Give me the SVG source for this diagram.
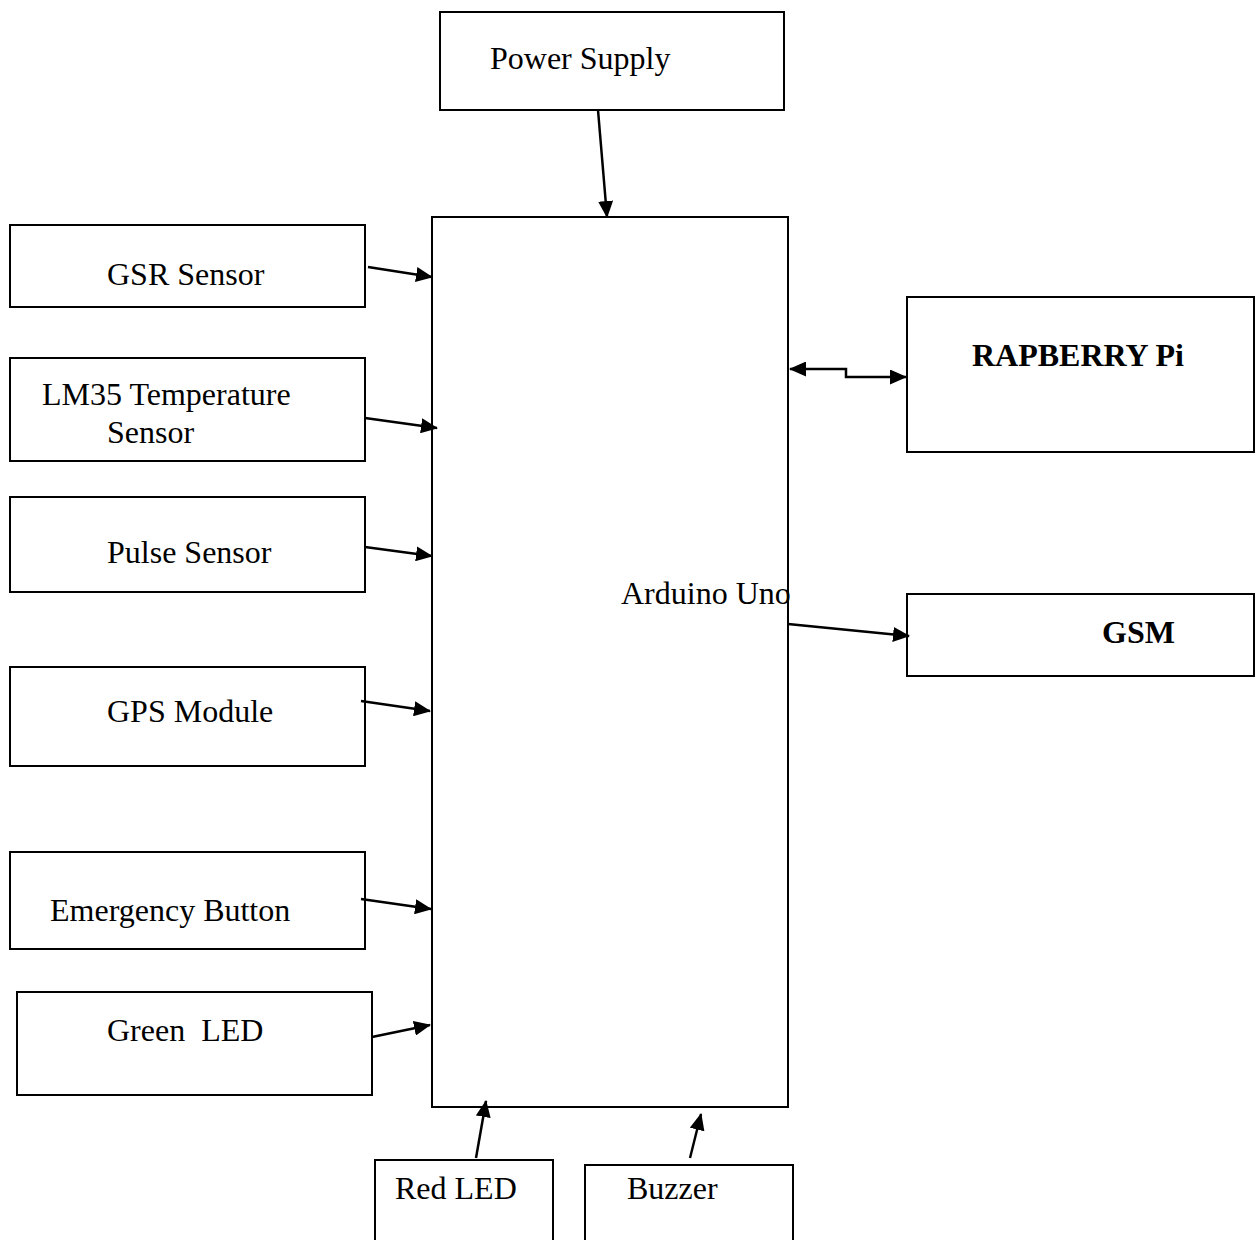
<svg xmlns="http://www.w3.org/2000/svg" width="1256" height="1240" viewBox="0 0 1256 1240">
<style>
.box{fill:#fff;stroke:#000;stroke-width:2}
.t{font-family:"Liberation Serif","Times New Roman",serif;font-size:32px;fill:#000}
.b{font-weight:bold}
.c{fill:none;stroke:#000;stroke-width:2.5}
</style>
<defs>
<marker id="ah" markerUnits="userSpaceOnUse" markerWidth="17" markerHeight="15" refX="16" refY="7.5" orient="auto-start-reverse" viewBox="0 0 17 15">
<path d="M0,0 L17,7.5 L0,15 Z" fill="#000"/>
</marker>
</defs>
<rect width="1256" height="1240" fill="#fff"/>
<g id="arduino"><rect class="box" x="432" y="217" width="356" height="890"/><text class="t" x="621" y="604">Arduino Uno</text></g>
<g id="power"><rect class="box" x="440" y="12" width="344" height="98"/><text class="t" x="490" y="69">Power Supply</text></g>
<g id="gsr"><rect class="box" x="10" y="225" width="355" height="82"/><text class="t" x="107" y="285">GSR Sensor</text></g>
<g id="lm35"><rect class="box" x="10" y="358" width="355" height="103"/><text class="t" x="42" y="405">LM35 Temperature</text><text class="t" x="107" y="443">Sensor</text></g>
<g id="pulse"><rect class="box" x="10" y="497" width="355" height="95"/><text class="t" x="107" y="563">Pulse Sensor</text></g>
<g id="gps"><rect class="box" x="10" y="667" width="355" height="99"/><text class="t" x="107" y="722">GPS Module</text></g>
<g id="emergency"><rect class="box" x="10" y="852" width="355" height="97"/><text class="t" x="50" y="921">Emergency Button</text></g>
<g id="greenled"><rect class="box" x="17" y="992" width="355" height="103"/><text class="t" x="107" y="1041" xml:space="preserve">Green  LED</text></g>
<g id="redled"><rect class="box" x="375" y="1160" width="178" height="100"/><text class="t" x="395" y="1199">Red LED</text></g>
<g id="buzzer"><rect class="box" x="585" y="1165" width="208" height="100"/><text class="t" x="627" y="1199">Buzzer</text></g>
<g id="raspberry"><rect class="box" x="907" y="297" width="347" height="155"/><text class="t b" x="972" y="366">RAPBERRY Pi</text></g>
<g id="gsm"><rect class="box" x="907" y="594" width="347" height="82"/><text class="t b" x="1102" y="643">GSM</text></g>
<g id="connectors">
<line class="c" x1="598" y1="110" x2="607" y2="217" marker-end="url(#ah)"/>
<line class="c" x1="368" y1="267" x2="432" y2="277" marker-end="url(#ah)"/>
<line class="c" x1="365" y1="418" x2="437" y2="428" marker-end="url(#ah)"/>
<line class="c" x1="365" y1="547" x2="432" y2="556" marker-end="url(#ah)"/>
<line class="c" x1="361" y1="701" x2="430" y2="711" marker-end="url(#ah)"/>
<line class="c" x1="361" y1="899" x2="431" y2="909" marker-end="url(#ah)"/>
<line class="c" x1="372" y1="1037" x2="430" y2="1025" marker-end="url(#ah)"/>
<line class="c" x1="476" y1="1158" x2="486" y2="1101" marker-end="url(#ah)"/>
<line class="c" x1="690" y1="1158" x2="701" y2="1114" marker-end="url(#ah)"/>
<polyline class="c" points="790,369 846,369 846,377 906,377" marker-start="url(#ah)" marker-end="url(#ah)"/>
<line class="c" x1="788" y1="624" x2="909" y2="636" marker-end="url(#ah)"/>
</g>
</svg>
